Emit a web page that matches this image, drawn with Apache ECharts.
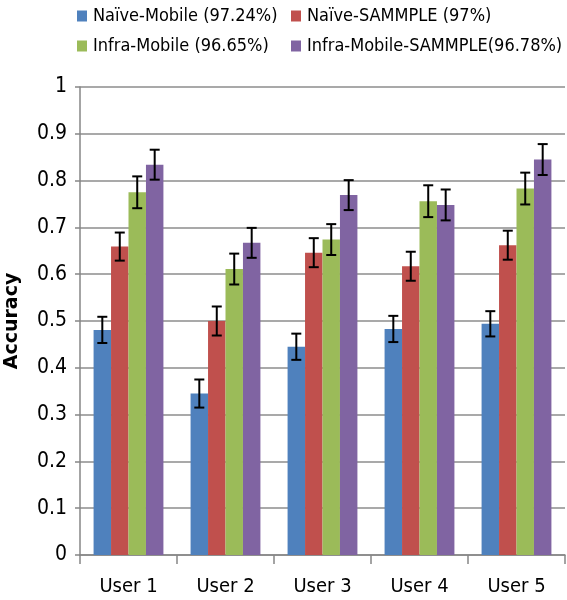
<!DOCTYPE html>
<html>
<head>
<meta charset="utf-8">
<script src="https://cdn.jsdelivr.net/npm/echarts@6/dist/echarts.min.js"></script>
<style>html,body{margin:0;padding:0;background:#fff}#c{width:567px;height:600px}</style>
</head>
<body>
<div id="c"></div>
<script>
const categories = ['User 1', 'User 2', 'User 3', 'User 4', 'User 5'];
const seriesNames = ['Naïve-Mobile (97.24%)', 'Naïve-SAMMPLE (97%)', 'Infra-Mobile (96.65%)', 'Infra-Mobile-SAMMPLE(96.78%)'];
const naiveMobile = [0.481, 0.345, 0.445, 0.483, 0.494];
const naiveSammple = [0.659, 0.500, 0.646, 0.617, 0.662];
const infraMobile = [0.775, 0.611, 0.674, 0.756, 0.783];
const infraMobileSammple = [0.834, 0.667, 0.769, 0.748, 0.845];
const errNaiveMobile = [0.028, 0.030, 0.028, 0.028, 0.027];
const errNaiveSammple = [0.030, 0.031, 0.031, 0.031, 0.031];
const errInfraMobile = [0.034, 0.033, 0.033, 0.034, 0.034];
const errInfraMobileSammple = [0.032, 0.032, 0.032, 0.033, 0.033];
const yTicks = [0, 0.1, 0.2, 0.3, 0.4, 0.5, 0.6, 0.7, 0.8, 0.9, 1];

const values = [naiveMobile, naiveSammple, infraMobile, infraMobileSammple];
const errors = [errNaiveMobile, errNaiveSammple, errInfraMobile, errInfraMobileSammple];
const colors = ['#4F81BD', '#C0504D', '#9BBB59', '#8064A2'];
const FONT = '"DejaVu Sans Condensed", "Liberation Sans Narrow", sans-serif';
const catGap = 0.28;

const chart = echarts.init(document.getElementById('c'));

const barSeries = values.map((v, i) => ({
  name: seriesNames[i],
  type: 'bar',
  data: v,
  itemStyle: { color: colors[i] },
  barGap: '0%',
  barCategoryGap: (catGap * 100) + '%'
}));

const errSeries = values.map((v, i) => ({
  type: 'custom',
  name: 'err' + i,
  data: v.map((val, k) => [k, val - errors[i][k], val + errors[i][k]]),
  z: 10,
  renderItem: function (params, api) {
    const k = api.value(0);
    const lo = api.coord([k, api.value(1)]);
    const hi = api.coord([k, api.value(2)]);
    const catW = api.size([1, 0])[0];
    const bw = catW * (1 - catGap) / 4;
    const x = lo[0] + (i - 1.5) * bw;
    const cap = 5;
    const style = { stroke: '#000', lineWidth: 2 };
    return {
      type: 'group',
      children: [
        { type: 'line', shape: { x1: x, y1: hi[1], x2: x, y2: lo[1] }, style: style },
        { type: 'line', shape: { x1: x - cap, y1: hi[1], x2: x + cap, y2: hi[1] }, style: style },
        { type: 'line', shape: { x1: x - cap, y1: lo[1], x2: x + cap, y2: lo[1] }, style: style }
      ]
    };
  }
}));

const legendPos = [[77, 7], [291, 7], [77, 37], [291, 37]];
const legends = seriesNames.map((n, i) => ({
  data: [n],
  left: legendPos[i][0],
  top: legendPos[i][1],
  padding: 0,
  icon: 'rect',
  itemWidth: 10,
  itemHeight: 11,
  itemGap: 6,
  selectedMode: false,
  textStyle: { fontFamily: FONT, fontSize: 18, color: '#000', padding: [0, 0, 0, 1] }
}));

chart.setOption({
  animation: false,
  legend: legends,
  grid: { left: 80, right: 2, top: 87, bottom: 45, containLabel: false, outerBoundsMode: 'none' },
  xAxis: {
    type: 'category',
    data: categories,
    axisLine: { lineStyle: { color: '#868686', width: 1.5 } },
    axisTick: { show: true, length: 9, lineStyle: { color: '#868686', width: 1.5 } },
    axisLabel: { fontFamily: FONT, fontSize: 20, color: '#000', margin: 22 }
  },
  yAxis: {
    type: 'value',
    min: 0, max: 1, interval: 0.1,
    name: 'Accuracy',
    nameLocation: 'middle',
    nameGap: 58,
    nameTextStyle: { fontFamily: '"DejaVu Sans", sans-serif', fontSize: 19, fontWeight: 'bold', color: '#000' },
    axisLine: { show: true, lineStyle: { color: '#868686', width: 1.5 } },
    axisTick: { show: true, length: 5, lineStyle: { color: '#868686', width: 1.5 } },
    splitLine: { lineStyle: { color: '#8c8c8c', width: 1.5 } },
    axisLabel: {
      fontFamily: FONT, fontSize: 21, color: '#000', margin: 13,
      formatter: function (v) {
        const t = yTicks.find(x => Math.abs(x - v) < 1e-9);
        return t === undefined ? '' : String(t);
      }
    }
  },
  series: barSeries.concat(errSeries)
});
</script>
</body>
</html>
